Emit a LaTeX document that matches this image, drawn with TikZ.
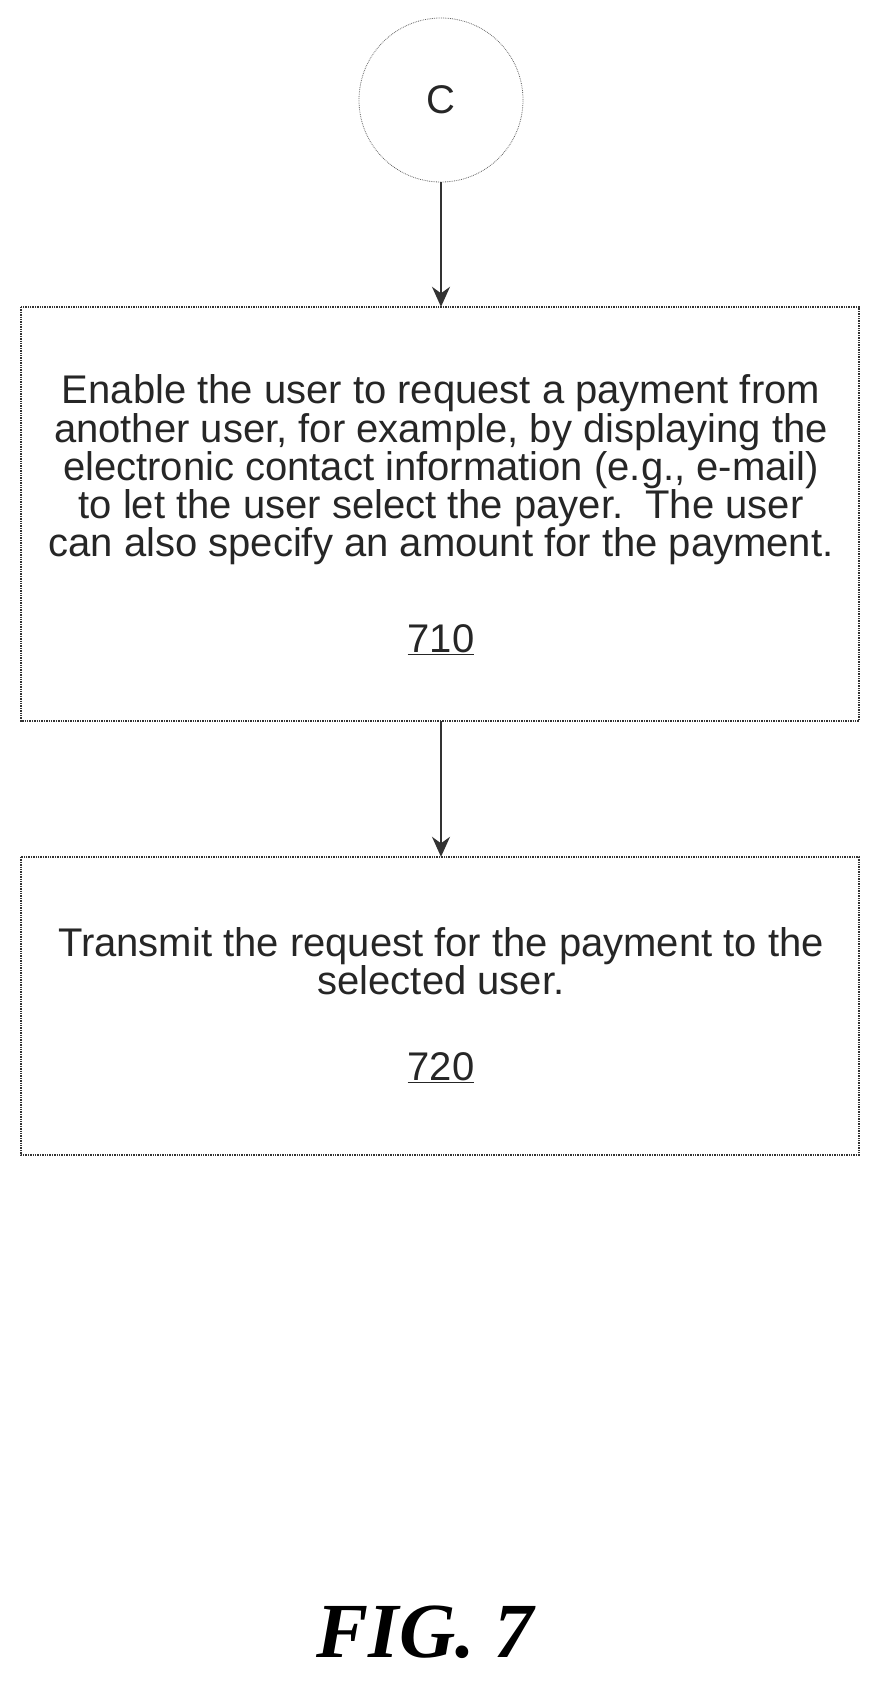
\documentclass[tikz,border=0pt]{standalone}
\usepackage{fontspec}
\setmainfont{Liberation Sans}
\newfontfamily\figfont{Liberation Serif}
\usetikzlibrary{arrows.meta}
\begin{document}
\begin{tikzpicture}[x=1pt,y=-1pt,
  boxst/.style={draw=black!80,line width=1.4pt,densely dotted,rectangle},
  txt/.style={font=\fontsize{40}{37}\selectfont,align=center,text=black!85},
  arr/.style={draw=black!80,line width=2pt,-{Stealth[length=20pt,width=18pt]}}]
\useasboundingbox (0,0) rectangle (889,1695);
\node[circle,draw=black!60,densely dotted,line width=0.8pt,minimum size=164pt,inner sep=0] (c) at (441,100) {};
\node[txt] at (c) {C};
\draw[boxst] (21,307) rectangle (859,721);
\node (b1) at (441,514) [minimum width=838pt,minimum height=414pt] {};
\node[txt] at (441,470) {Enable the user to request a payment from\\another user, for example, by displaying the\\electronic contact information (e.g., e-mail)\\to let the user select the payer.\ \ The user\\can also specify an amount for the payment.};
\node[txt] at (441,640) {\underline{710}};
\draw[boxst] (21,857) rectangle (859,1155);
\node (b2) at (441,1006) [minimum width=838pt,minimum height=298pt] {};
\node[txt] at (441,961) {Transmit the request for the payment to the\\selected user.};
\node[txt] at (441,1068) {\underline{720}};
\draw[arr] (c.south) -- (b1.north);
\draw[arr] (b1.south) -- (b2.north);
\node[font=\figfont\bfseries\itshape\fontsize{78}{78}\selectfont] at (425,1632) {FIG. 7};
\end{tikzpicture}
\end{document}
